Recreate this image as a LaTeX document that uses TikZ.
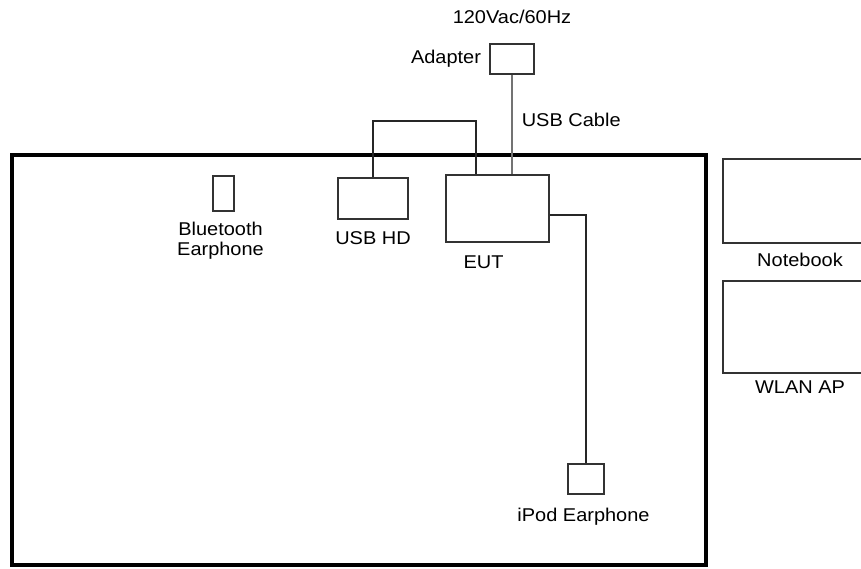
\documentclass[tikz,border=0pt]{standalone}
\usepackage{fontspec}
\setmainfont{Liberation Sans}[FakeStretch=1.08]
\usetikzlibrary{positioning}

\begin{document}
\begin{tikzpicture}[
  x=1pt, y=-1pt,
  box/.style={rectangle, draw=black!80, line width=1.6pt, inner sep=0pt},
  tag/.style={inner sep=0pt, text height=13pt, text depth=4pt, align=center},
  wire/.style={draw=black!85, line width=1.6pt},
  font=\fontsize{18.5}{20}\selectfont
]
\useasboundingbox (0,0) rectangle (861,569);
\clip (0,0) rectangle (861,569);

% table
\node[draw, line width=3.5pt, minimum width=694pt, minimum height=410pt, inner sep=0pt] (table) at (359,360) {};

% devices
\node[box, minimum width=44pt, minimum height=30pt] (adapter) at (512,59) {};
\node[box, minimum width=70pt, minimum height=41pt] (usbhd) at (373,198.5) {};
\node[box, minimum width=21pt, minimum height=35pt] (bt) at (223.5,193.5) {};
\node[box, minimum width=103pt, minimum height=67pt] (eut) at (497.5,208.5) {};
\node[box, minimum width=36pt, minimum height=30pt] (ipod) at (586,479) {};
\node[box, minimum width=177pt, minimum height=84pt] (notebook) at (811.5,201) {};
\node[box, minimum width=177pt, minimum height=92pt] (wlan) at (811.5,327) {};

% labels
\node[tag, above=15pt of adapter] (mains) {120Vac/60Hz};
\node[tag, left=8pt of adapter] (adaptertag) {Adapter};
\node[tag, below=11pt of usbhd] (usbhdtag) {USB HD};
\node[inner sep=0pt, align=center, below=10pt of bt, xshift=-3pt] (bttag) {Bluetooth\\Earphone};
\node[tag, below=12pt of eut, xshift=-14pt] (euttag) {EUT};
\node[tag, below=13pt of ipod, xshift=-2.5pt] (ipodtag) {iPod Earphone};
\node[tag, anchor=north] (notebooktag) at (800,253) {Notebook};
\node[tag, anchor=north] (wlantag) at (800,380) {WLAN AP};

% cables
\coordinate (loop) at (476,121);
\coordinate (tap) at (eut.east |- 0,215);
\draw[wire, draw=black!55] (adapter.south) -- (adapter.south |- eut.north) node[tag, pos=0.47, right=9pt] (cabletag) {USB Cable};
\draw[wire] (usbhd.north) |- (loop) -- (loop |- eut.north);
\draw[wire] (tap) -| (ipod.north);
\end{tikzpicture}
\end{document}
